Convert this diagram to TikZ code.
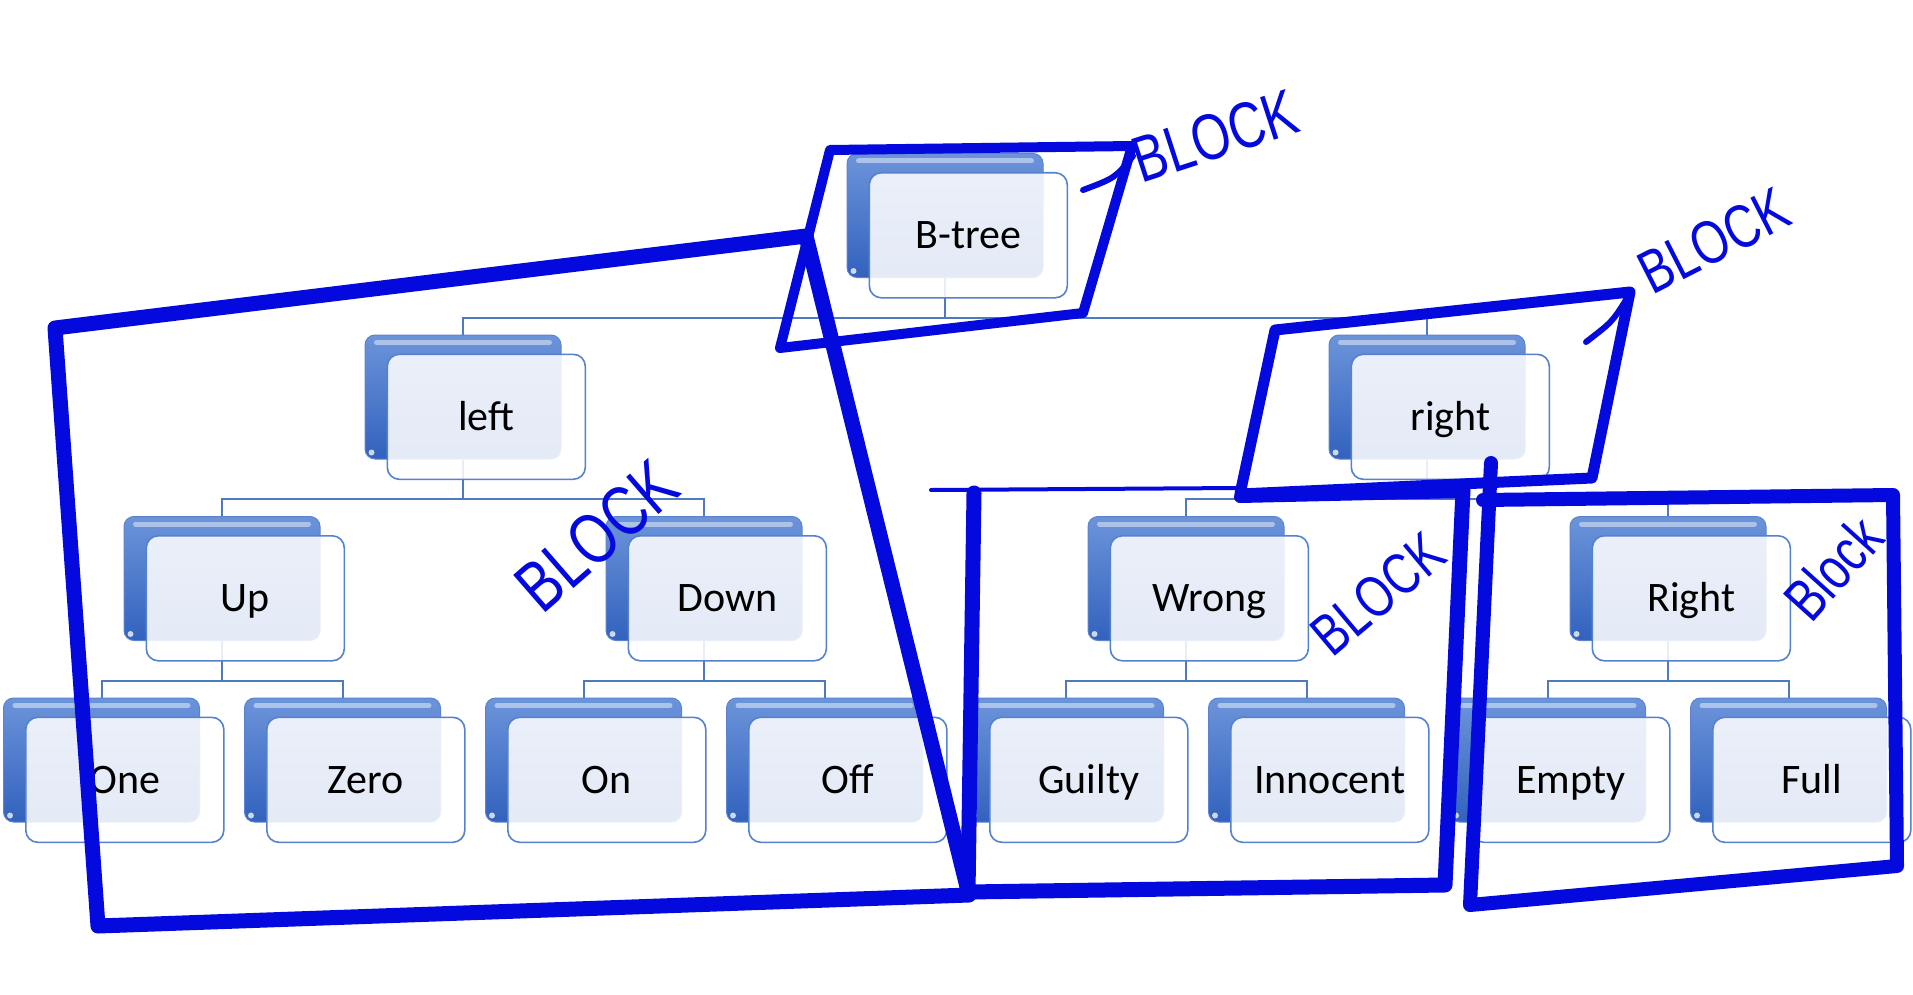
\documentclass[tikz,border=0pt]{standalone}
\usepackage{fontspec}
\usepackage{graphicx}
\setmainfont{Carlito}
\newfontfamily\handfont{Liberation Sans}
\usetikzlibrary{calc}
\definecolor{bktop}{RGB}{108,148,218}
\definecolor{bkbot}{RGB}{50,98,190}
\definecolor{bkedge}{RGB}{92,132,206}
\definecolor{frontedge}{RGB}{84,130,205}
\definecolor{connc}{RGB}{79,122,190}
\definecolor{inkblue}{RGB}{4,10,222}
\pgfdeclarelayer{bg}
\pgfsetlayers{bg,main}
\tikzset{
  backbox/.style={rectangle, rounded corners=10pt, minimum width=196pt, minimum height=124pt,
    inner sep=0pt, anchor=north west, top color=bktop, bottom color=bkbot, draw=bkedge, line width=1pt},
  frontbox/.style={rectangle, rounded corners=12pt, minimum width=198pt, minimum height=125pt,
    inner sep=0pt, anchor=north west, fill=white, fill opacity=0.87, text opacity=1,
    draw=frontedge, line width=1.6pt, font=\fontsize{42}{50}\selectfont,
    text height=27pt, text depth=0pt},
  gloss/.style={draw=white, opacity=0.45, line width=5pt, line cap=round},
  conn/.style={draw=connc, line width=2pt},
  ink/.style={draw=inkblue, line width=15pt, line cap=round, line join=round},
  scrawl/.style={text=inkblue, inner sep=0pt},
}
\newcommand\treenode[4]{%
  \node[backbox] (#1) at (#2,#3) {};
  \draw[gloss] ([xshift=12pt,yshift=-8pt]#1.north west) -- ([xshift=-12pt,yshift=-8pt]#1.north east);
  \fill[white, opacity=0.75] ([xshift=7pt,yshift=7pt]#1.south west) circle (3pt);
  \node[frontbox] (#1-f) at ({#2+22},{#3+19}) {#4};
}
\newcommand\hand[1]{\handfont\fontsize{#1}{#1}\selectfont}
\begin{document}
\begin{tikzpicture}[x=1pt,y=-1pt]
\useasboundingbox (0,0) rectangle (1913,995);
\begin{pgfonlayer}{bg}
  \fill[white] (0,0) rectangle (1913,995);
\end{pgfonlayer}
% tree nodes
\treenode{btree}{846.5}{153}{B-tree}
\treenode{left}{364.5}{334.5}{left}
\treenode{right}{1328.5}{334.5}{right}
\treenode{up}{123.5}{516}{Up}
\treenode{down}{605.5}{516}{Down}
\treenode{wrong}{1087.5}{516}{Wrong}
\treenode{rgt}{1569.5}{516}{Right}
\treenode{one}{3}{697.5}{One}
\treenode{zero}{244}{697.5}{Zero}
\treenode{on}{485}{697.5}{On}
\treenode{off}{726}{697.5}{Off}
\treenode{guilty}{967}{697.5}{Guilty}
\treenode{innocent}{1208}{697.5}{Innocent}
\treenode{empty}{1449}{697.5}{Empty}
\treenode{full}{1690}{697.5}{Full}
% connectors
\begin{pgfonlayer}{bg}
\foreach \pa/\ch in {btree/left, btree/right, left/up, left/down, right/wrong, right/rgt,
    up/one, up/zero, down/on, down/off, wrong/guilty, wrong/innocent, rgt/empty, rgt/full}
  \draw[conn] (\pa.south) -- ++(0,39.5) -| (\ch.north);
\end{pgfonlayer}
% ink: left block
\draw[ink] (55,328) -- (806,236) -- (969,895) -- (98,926) -- cycle;
% ink: B-tree block
\draw[ink, line width=10pt] (830,150) -- (1132,146) -- (1083,313) -- (780,348) -- cycle;
\draw[ink, line width=6pt] (1083,190) .. controls (1115,178) .. (1133,156);
% ink: right block
\draw[ink, line width=11pt] (1275,330) -- (1630,292) -- (1592,478) -- (1240,494) -- cycle;
\draw[ink, line width=6pt] (1586,342) .. controls (1612,322) .. (1626,300);
% ink: Wrong block
\draw[ink, line width=4pt] (931,490) -- (1240,488);
\draw[ink, line width=12pt] (1240,497) -- (1463,492);
\draw[ink] (974,493) -- (968,892) -- (1445,885) -- (1463,490);
% ink: Right block
\draw[ink, line width=14pt] (1491,463) -- (1470,905) -- (1897,866) -- (1893,495) -- (1483,500);
% handwritten labels
\node[scrawl, rotate=18] (blk1) at (1215,136) {\hand{50}\scalebox{1}[1.3]{BLOCK}};
\node[scrawl, rotate=27] (blk2) at (1714,241) {\hand{47}\scalebox{1}[1.3]{BLOCK}};
\node[scrawl, rotate=41] (blk3) at (597,536) {\hand{55}\scalebox{1}[1.3]{BLOCK}};
\node[scrawl, rotate=40] (blk4) at (1378,594) {\hand{45}\scalebox{1}[1.3]{BLOCK}};
\node[scrawl, rotate=48] (blk5) at (1833,568) {\hand{46}\scalebox{1}[1.3]{Block}};
\end{tikzpicture}
\end{document}
